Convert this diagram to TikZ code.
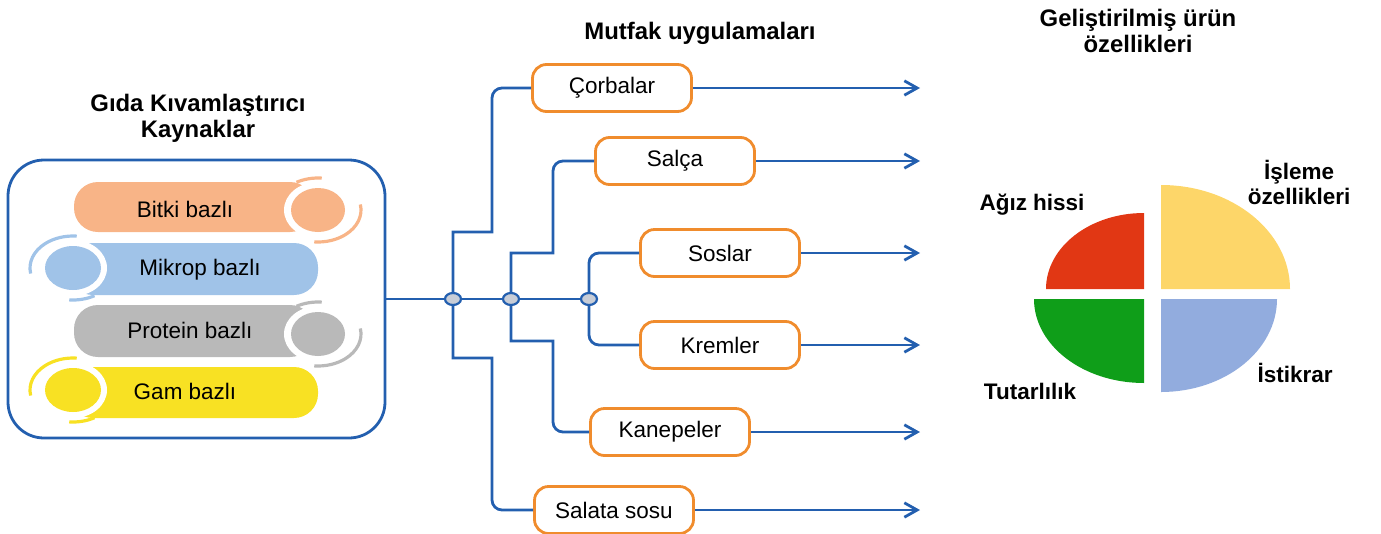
\documentclass[tikz,border=0pt]{standalone}
\usepackage{fontspec}
\setmainfont{Liberation Sans}
\usetikzlibrary{positioning,shapes.geometric,arrows.meta}

\definecolor{linkblue}{RGB}{35,95,175}
\definecolor{boxorange}{RGB}{240,140,45}
\definecolor{juncgray}{RGB}{200,205,215}
\definecolor{bitkicol}{RGB}{248,180,135}
\definecolor{mikropcol}{RGB}{160,195,232}
\definecolor{proteincol}{RGB}{185,185,185}
\definecolor{gamcol}{RGB}{248,225,35}
\definecolor{pieyellow}{RGB}{253,214,105}
\definecolor{piered}{RGB}{225,55,20}
\definecolor{piegreen}{RGB}{15,158,25}
\definecolor{pieblue}{RGB}{146,172,222}

\begin{document}
\begin{tikzpicture}[x=0.25mm, y=-0.25mm,
    link/.style={linkblue, line width=0.7mm},
    arr/.style={link, -{Straight Barb[length=3.2mm,width=3.6mm]}},
    usebox/.style={draw=boxorange, line width=0.7mm, rounded corners=3.5mm,
        fill=white, minimum width=39.75mm, minimum height=11.75mm,
        font=\fontsize{16}{19}\selectfont},
    junc/.style={ellipse, draw=linkblue, fill=juncgray, line width=0.55mm,
        minimum width=4mm, minimum height=3mm, inner sep=0pt},
    srcbox/.style={draw=linkblue, line width=0.7mm, rounded corners=9mm,
        minimum width=94.25mm, minimum height=69.5mm},
    pilltext/.style={font=\fontsize{16}{19}\selectfont},
    title/.style={font=\bfseries\fontsize{17}{18.5}\selectfont, align=center},
    pielabel/.style={font=\bfseries\fontsize{16}{17.8}\selectfont, align=center}]

    \useasboundingbox (0,0) rectangle (1381,533);

    % titles
    \node[title] (srctitle) at (198,118) {Gıda Kıvamlaştırıcı\\Kaynaklar};
    \node[title] (usetitle) at (700,33) {Mutfak uygulamaları};
    \node[title] (pietitle) at (1138,31) {Geliştirilmiş ürün\\özellikleri};

    % sources
    \node[srcbox] (src) at (196.5,299) {};

    \fill[bitkicol, rounded corners=6mm] (74,182) rectangle (314,232);
    \fill[white] (318,210) ellipse [x radius=34, y radius=28];
    \fill[bitkicol] (318,210) ellipse [x radius=27, y radius=22];
    \draw[bitkicol, line width=0.8mm] (318,210) ++(240:43 and 32) arc [start angle=240, end angle=275, x radius=43, y radius=32];
    \draw[bitkicol, line width=0.8mm] (318,210) ++(-10:43 and 32) arc [start angle=-10, end angle=95, x radius=43, y radius=32];

    \fill[mikropcol, rounded corners=6mm] (69,243) rectangle (318,295);
    \fill[white] (73,268) ellipse [x radius=34, y radius=28];
    \fill[mikropcol] (73,268) ellipse [x radius=28, y radius=22];
    \draw[mikropcol, line width=0.8mm] (73,268) ++(170:43 and 32) arc [start angle=170, end angle=275, x radius=43, y radius=32];
    \draw[mikropcol, line width=0.8mm] (73,268) ++(60:43 and 32) arc [start angle=60, end angle=95, x radius=43, y radius=32];

    \fill[proteincol, rounded corners=6mm] (74,305) rectangle (314,357);
    \fill[white] (318,334) ellipse [x radius=34, y radius=28];
    \fill[proteincol] (318,334) ellipse [x radius=27, y radius=22];
    \draw[proteincol, line width=0.8mm] (318,334) ++(240:43 and 32) arc [start angle=240, end angle=275, x radius=43, y radius=32];
    \draw[proteincol, line width=0.8mm] (318,334) ++(-10:43 and 32) arc [start angle=-10, end angle=95, x radius=43, y radius=32];

    \fill[gamcol, rounded corners=6mm] (69,367) rectangle (318,418);
    \fill[white] (73,390) ellipse [x radius=34, y radius=28];
    \fill[gamcol] (73,390) ellipse [x radius=28, y radius=22];
    \draw[gamcol, line width=0.8mm] (73,390) ++(170:43 and 32) arc [start angle=170, end angle=275, x radius=43, y radius=32];
    \draw[gamcol, line width=0.8mm] (73,390) ++(60:43 and 32) arc [start angle=60, end angle=95, x radius=43, y radius=32];

    \node[pilltext] (bitki) at (185,209) {Bitki bazlı};
    \node[pilltext] (mikrop) at (200,270) {Mikrop bazlı};
    \node[pilltext] (protein) at (190,330) {Protein bazlı};
    \node[pilltext] (gam) at (185,391) {Gam bazlı};

    % kitchen uses
    \node[junc] (j1) at (453,299) {};
    \node[junc] (j2) at (511,299) {};
    \node[junc] (j3) at (589,299) {};

    \node[usebox] (corba) at (612,88) {Çorbalar};
    \node[usebox] (salca) at (675,161) {Salça};
    \node[usebox] (sos) at (720,253) {Soslar};
    \node[usebox] (krem) at (720,345) {Kremler};
    \node[usebox] (kanepe) at (670,432) {Kanepeler};
    \node[usebox] (salata) at (614,510) {Salata sosu};

    \draw[link] (src.east) -- (j1) -- (j2) -- (j3);
    \draw[link] (j1) |- (492,232) [rounded corners=2.5mm] |- (corba.west);
    \draw[link] (j1) |- (492,358) [rounded corners=2.5mm] |- (salata.west);
    \draw[link] (j2) |- (553,253) [rounded corners=2.5mm] |- (salca.west);
    \draw[link] (j2) |- (553,341) [rounded corners=2.5mm] |- (kanepe.west);
    \draw[link, rounded corners=2.5mm] (j3) |- (sos.west);
    \draw[link, rounded corners=2.5mm] (j3) |- (krem.west);

    \coordinate (tip) at (920,0);
    \foreach \n in {corba,salca,sos,krem,kanepe,salata} {
        \draw[arr] (\n.east) -- (\n.east -| tip);
    }

    % product properties
    \fill[pieyellow] (1161,289) -- (1290,289) arc [start angle=0, end angle=-90, x radius=129, y radius=104] -- cycle;
    \fill[piered] (1144,289) -- (1046,289) arc [start angle=180, end angle=270, x radius=98, y radius=76] -- cycle;
    \fill[piegreen] (1144,299) -- (1034,299) arc [start angle=180, end angle=90, x radius=110, y radius=84] -- cycle;
    \fill[pieblue] (1161,299) -- (1277,299) arc [start angle=0, end angle=90, x radius=116, y radius=93] -- cycle;

    \node[pielabel] (agiz) at (1032,205) {Ağız hissi};
    \node[pielabel] (isleme) at (1299,182) {İşleme\\özellikleri};
    \node[pielabel] (istikrar) at (1295,373) {İstikrar};
    \node[pielabel] (tutarlilik) at (1030,391) {Tutarlılık};
\end{tikzpicture}
\end{document}
